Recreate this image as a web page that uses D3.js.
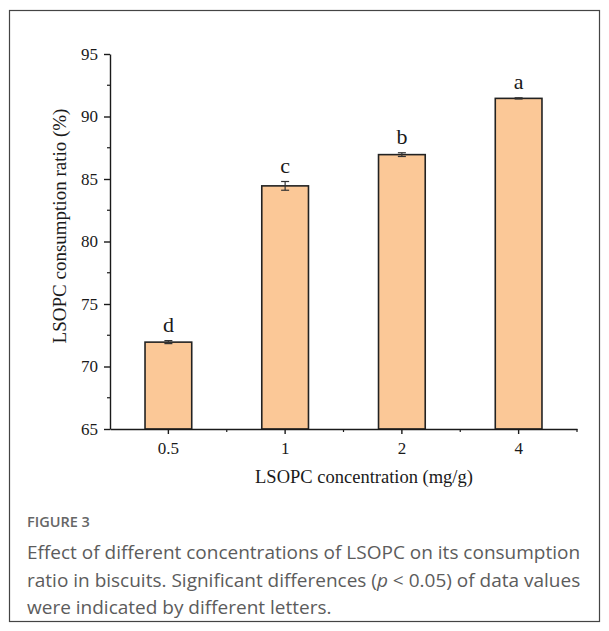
<!DOCTYPE html>
<html>
<head>
<meta charset="utf-8">
<script src="https://cdn.jsdelivr.net/npm/d3@7"></script>
<style>
  html, body { margin: 0; padding: 0; background: #fff; }
  svg { display: block; }
</style>
</head>
<body>
<svg id="chart" width="609" height="631"></svg>
<script>
// Consumption ratio of LSOPC at each concentration (mean, SD, significance letter)
const categories = ["0.5", "1", "2", "4"];
const values = [71.95, 84.45, 86.95, 91.45];
const errors = [0.12, 0.35, 0.15, 0.05];
const letters = ["d", "c", "b", "a"];
const yTicks = [65, 70, 75, 80, 85, 90, 95];

const captionTitle = "FIGURE 3";
const captionLines = [
  "Effect of different concentrations of LSOPC on its consumption",
  "ratio in biscuits. Significant differences (p < 0.05) of data values",
  "were indicated by different letters."
];

const svg = d3.select("#chart");
const serif = "'Liberation Serif', 'Times New Roman', serif";
const ink = "#1a1a1a";

// outer frame
svg.append("rect")
  .attr("x", 9.5).attr("y", 10.5)
  .attr("width", 590).attr("height", 611)
  .attr("fill", "none").attr("stroke", "#444").attr("stroke-width", 1.2);

const plot = { left: 110, right: 577, top: 54, bottom: 429 };

const x = d3.scaleBand()
  .domain(categories)
  .range([plot.left, plot.right])
  .paddingInner(0.6)
  .paddingOuter(0.3);

const y = d3.scaleLinear()
  .domain([65, 95])
  .range([plot.bottom, plot.top]);

// bars
svg.append("g").selectAll("rect")
  .data(categories)
  .join("rect")
  .attr("x", d => x(d))
  .attr("y", (d, i) => y(values[i]))
  .attr("width", x.bandwidth())
  .attr("height", (d, i) => y(65) - y(values[i]))
  .attr("fill", "#fbc897")
  .attr("stroke", "#222")
  .attr("stroke-width", 1.6);

// error bars
const eb = svg.append("g").attr("stroke", "#333").attr("stroke-width", 1.2);
categories.forEach((c, i) => {
  const cx = x(c) + x.bandwidth() / 2;
  const y1 = y(values[i] + errors[i]);
  const y0 = y(values[i] - errors[i]);
  eb.append("line").attr("x1", cx).attr("x2", cx).attr("y1", y1).attr("y2", y0);
  eb.append("line").attr("x1", cx - 4).attr("x2", cx + 4).attr("y1", y1).attr("y2", y1);
  eb.append("line").attr("x1", cx - 4).attr("x2", cx + 4).attr("y1", y0).attr("y2", y0);
});

// significance letters
svg.append("g").selectAll("text")
  .data(categories)
  .join("text")
  .attr("x", d => x(d) + x.bandwidth() / 2)
  .attr("y", (d, i) => y(values[i] + errors[i]) - 9)
  .attr("text-anchor", "middle")
  .attr("font-family", serif)
  .attr("font-size", 22)
  .attr("fill", ink)
  .text((d, i) => letters[i]);

// y axis
const yAxis = svg.append("g")
  .attr("transform", `translate(${plot.left},0)`)
  .call(d3.axisLeft(y).tickValues(yTicks).tickSize(6).tickSizeOuter(0).tickPadding(6));
yAxis.select(".domain").attr("stroke", ink).attr("stroke-width", 1.4);
yAxis.selectAll(".tick line").attr("stroke", ink).attr("stroke-width", 1.4);
yAxis.selectAll(".tick text")
  .attr("font-family", serif).attr("font-size", 17).attr("fill", ink);

// y minor ticks
const yMinor = d3.range(67.5, 95, 5);
svg.append("g").selectAll("line")
  .data(yMinor)
  .join("line")
  .attr("x1", plot.left - 3).attr("x2", plot.left)
  .attr("y1", d => y(d)).attr("y2", d => y(d))
  .attr("stroke", ink).attr("stroke-width", 1.2);

// x axis
const xAxis = svg.append("g")
  .attr("transform", `translate(0,${plot.bottom})`)
  .call(d3.axisBottom(x).tickSize(5).tickSizeOuter(0).tickPadding(8));
xAxis.select(".domain").attr("stroke", ink).attr("stroke-width", 1.4);
xAxis.selectAll(".tick line").attr("stroke", ink).attr("stroke-width", 1.4);
xAxis.selectAll(".tick text")
  .attr("font-family", serif).attr("font-size", 17).attr("fill", ink);

// x minor ticks at band boundaries and the right end
const xMinor = categories.slice(1).map(c => x(c) - x.step() * x.paddingInner() / 2);
xMinor.push(plot.right);
svg.append("g").selectAll("line")
  .data(xMinor)
  .join("line")
  .attr("x1", d => d).attr("x2", d => d)
  .attr("y1", plot.bottom).attr("y2", plot.bottom + 3)
  .attr("stroke", ink).attr("stroke-width", 1.2);

// axis titles
svg.append("text")
  .attr("x", 364)
  .attr("y", 483)
  .attr("text-anchor", "middle")
  .attr("font-family", serif).attr("font-size", 18.5).attr("fill", ink)
  .text("LSOPC concentration (mg/g)");

svg.append("text")
  .attr("transform", "translate(66,226) rotate(-90)")
  .attr("text-anchor", "middle")
  .attr("font-family", serif).attr("font-size", 19).attr("fill", ink)
  .text("LSOPC consumption ratio (%)");

// caption
svg.append("text")
  .attr("x", 27).attr("y", 527)
  .attr("font-family", "'Open Sans', sans-serif").attr("font-size", 14.5)
  .attr("font-weight", 600).attr("fill", "#666")
  .text(captionTitle);

const cap = svg.append("text")
  .attr("font-family", "'Open Sans', sans-serif").attr("font-size", 19)
  .attr("fill", "#5c5c5c");
captionLines.forEach((line, i) => {
  const t = cap.append("tspan").attr("x", 27).attr("y", 559 + i * 27.5);
  if (line.includes("(p <")) {
    const [a, b] = line.split("p <");
    t.append("tspan").text(a);
    t.append("tspan").attr("font-style", "italic").text("p");
    t.append("tspan").text(" <" + b);
  } else {
    t.text(line);
  }
});
</script>
</body>
</html>
